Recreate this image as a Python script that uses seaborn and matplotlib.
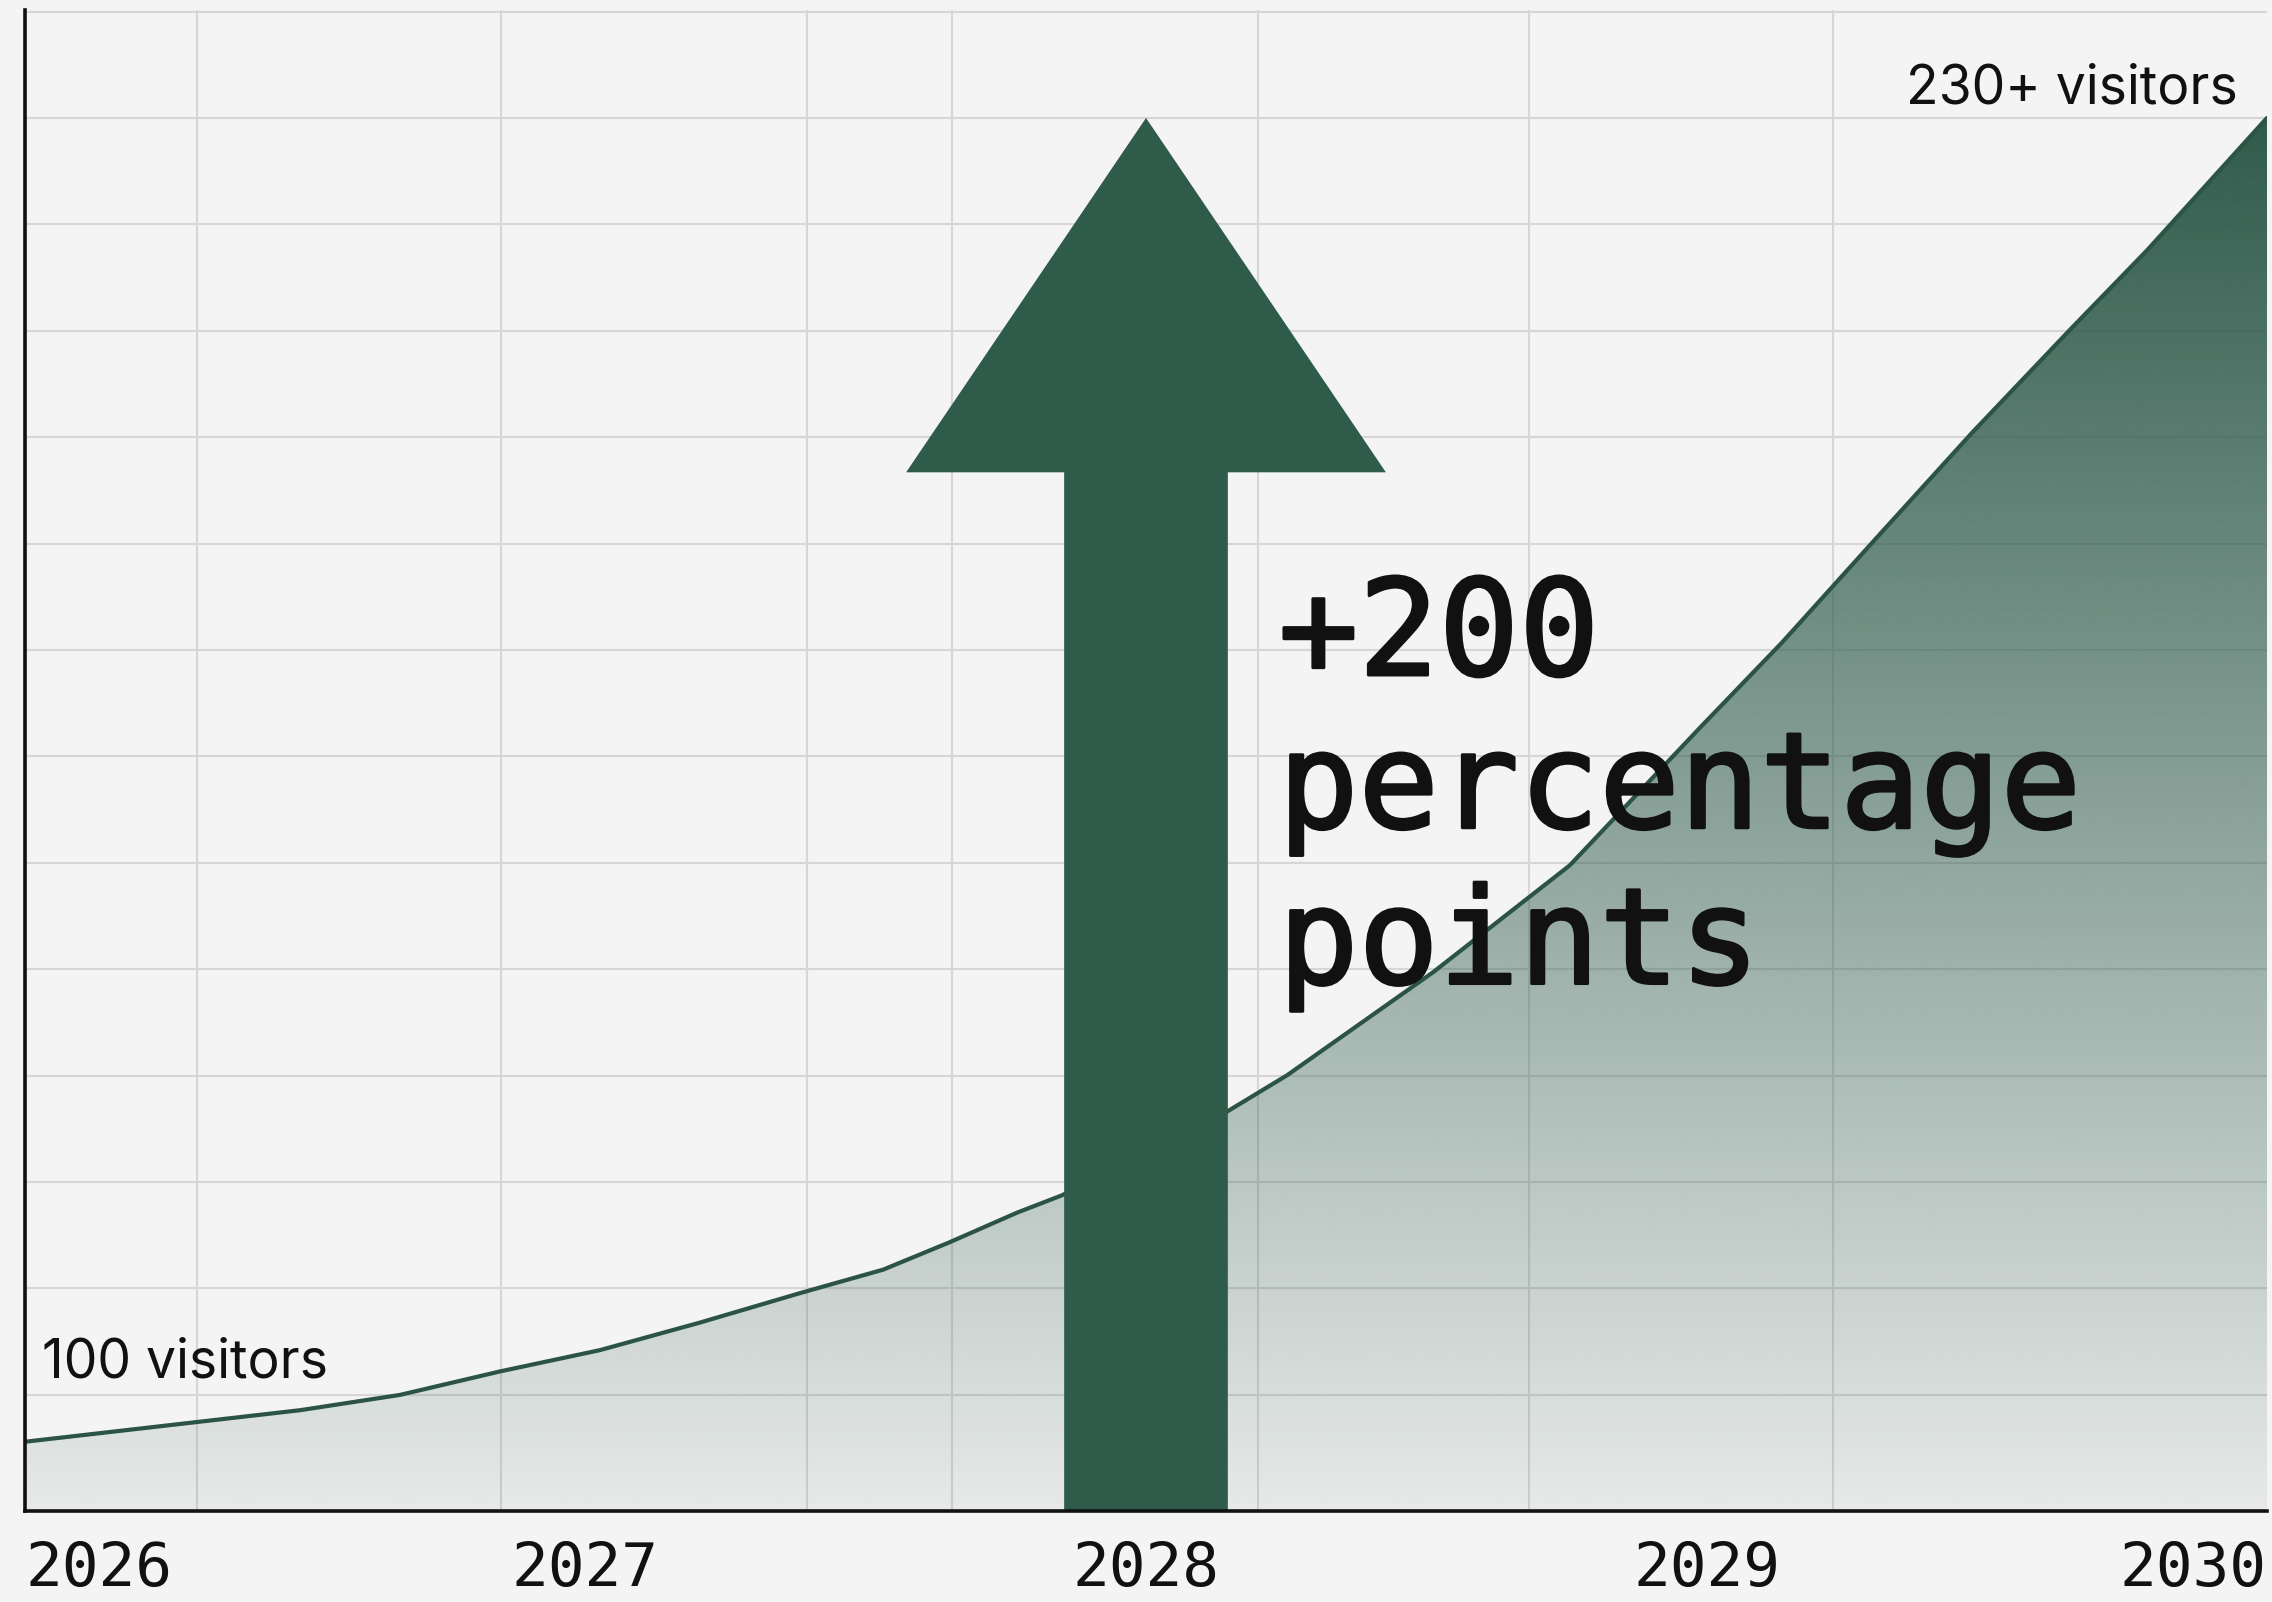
import numpy as np
import pandas as pd
import matplotlib
matplotlib.use("Agg")
import matplotlib.pyplot as plt
import matplotlib.patheffects as pe
import seaborn as sns
from matplotlib.patches import Polygon

# ---- data ----
years = [2026.000, 2026.491, 2026.669, 2026.847, 2027.026, 2027.204, 2027.383,
         2027.531, 2027.650, 2027.770, 2027.850, 2028.141, 2028.186, 2028.252,
         2028.512, 2028.756, 2028.988, 2029.135, 2029.304, 2029.474, 2029.652,
         2029.786, 2030.000]
visitors = [100.0, 103.1, 104.6, 106.9, 109.0, 111.7, 114.6, 116.9, 119.6,
            122.5, 124.2, 132.3, 133.8, 136.0, 146.1, 156.6, 170.1, 178.5,
            188.8, 199.1, 209.4, 217.0, 230.0]
tick_years = [2026, 2027, 2028, 2029, 2030]
tick_labels = ["2026", "2027", "2028", "2029", "2030"]
start_label = "100 visitors"
end_label = "230+ visitors"
big_label = ["+200", "percentage", "points"]

# arrow annotation (in data units)
arrow_year = 2028.0
arrow_top = 230.0
arrow_head_base = 195.2
arrow_head_half = 0.428
arrow_shaft_half = 0.146

# grid positions (style)
hgrid = [240.45, 230, 219.55, 209.1, 198.65, 188.2, 177.75, 167.3, 156.85,
         146.4, 135.95, 125.5, 115.05, 104.6]
vgrid = [2026.307, 2026.849, 2027.395, 2027.654, 2028.200, 2028.683, 2029.226]

BG = "#f4f4f4"
GREEN = "#2f5b4b"
LINE = "#2b5444"
GRID = "#d6d6d6"
INK = "#111111"

sns.set_theme(style="white", rc={"axes.facecolor": BG, "figure.facecolor": BG})
plt.rcParams["font.family"] = ["DejaVu Sans Mono", "DejaVu Sans"]

W, H = 2272, 1602
fig = plt.figure(figsize=(W / 100, H / 100), dpi=100)
ax = fig.add_axes([25 / W, (H - 1511) / H, (2267 - 25) / W, (1511 - 10) / H])

ymin, ymax = 93.2, 240.6
ax.set_xlim(2026, 2030)
ax.set_ylim(ymin, ymax)

df = pd.DataFrame({"year": years, "visitors": visitors})

# gradient fill under the curve
rgb = matplotlib.colors.to_rgb(GREEN)
n = 400
vals = np.linspace(ymin, ymax, n)
alpha = np.clip(0.07 + (vals - ymin) / (230 - ymin) * 0.93, 0, 1)
grad = np.zeros((n, 1, 4))
grad[:, 0, :3] = rgb
grad[:, 0, 3] = alpha
im = ax.imshow(grad, extent=[2026, 2030, ymin, ymax], origin="lower",
               aspect="auto", zorder=2, interpolation="bilinear")
verts = list(zip(years, visitors)) + [(2030, ymin), (2026, ymin)]
clip = Polygon(verts, closed=True, transform=ax.transData, facecolor="none",
               edgecolor="none")
ax.add_patch(clip)
im.set_clip_path(clip)
ax.set_xlim(2026, 2030)
ax.set_ylim(ymin, ymax)

sns.lineplot(data=df, x="year", y="visitors", ax=ax, color=LINE,
             linewidth=3.0, zorder=3)
for l in ax.lines:
    l.set_solid_joinstyle("round")
    l.set_solid_capstyle("round")

# arrow
arrow_pts = [
    (arrow_year - arrow_shaft_half, ymin - 5),
    (arrow_year - arrow_shaft_half, arrow_head_base),
    (arrow_year - arrow_head_half, arrow_head_base),
    (arrow_year, arrow_top),
    (arrow_year + arrow_head_half, arrow_head_base),
    (arrow_year + arrow_shaft_half, arrow_head_base),
    (arrow_year + arrow_shaft_half, ymin - 5),
]
ax.add_patch(Polygon(arrow_pts, closed=True, facecolor=GREEN, edgecolor="none",
                     zorder=4))

# grid
ax.set_yticks(hgrid)
ax.set_yticklabels([])
ax.set_xticks(tick_years)
ax.set_xticklabels(tick_labels)
ax.set_xticks(vgrid, minor=True)
ax.grid(False)
ax.grid(True, axis="y", which="major", color=GRID, linewidth=1.5, zorder=0)
ax.grid(True, axis="x", which="minor", color=GRID, linewidth=1.5, zorder=0)
ax.set_axisbelow(True)
ax.tick_params(axis="both", which="both", length=0)
ax.tick_params(axis="x", pad=21, labelsize=44, labelcolor=INK)
for t in ax.get_xticklabels():
    t.set_fontfamily(["DejaVu Sans Mono"])
labels = ax.get_xticklabels()
labels[0].set_horizontalalignment("left")
labels[-1].set_horizontalalignment("right")
ax.set_xlabel("")
ax.set_ylabel("")

for s in ["top", "right"]:
    ax.spines[s].set_visible(False)
for s in ["left", "bottom"]:
    ax.spines[s].set_color(INK)
    ax.spines[s].set_linewidth(2.6)
    ax.spines[s].set_zorder(6)

# texts
ax.text(2026.030, 106.3, start_label, fontsize=38.5, family=["Inter", "DejaVu Sans"],
        color=INK, va="baseline", ha="left", zorder=5)
ax.text(2029.948, 231.4, end_label, fontsize=38.5, family=["Inter", "DejaVu Sans"],
        color=INK, va="baseline", ha="right", zorder=5)
for txt, yb in zip(big_label, [175.3, 160.3, 145.0]):
    ax.text(2028.236, yb, txt, fontsize=96, family=["DejaVu Sans Mono"],
            color=INK, va="baseline", ha="left", zorder=5,
            path_effects=[pe.withStroke(linewidth=2.2, foreground=INK)])

fig.savefig("out.png", dpi=100, facecolor=BG)
